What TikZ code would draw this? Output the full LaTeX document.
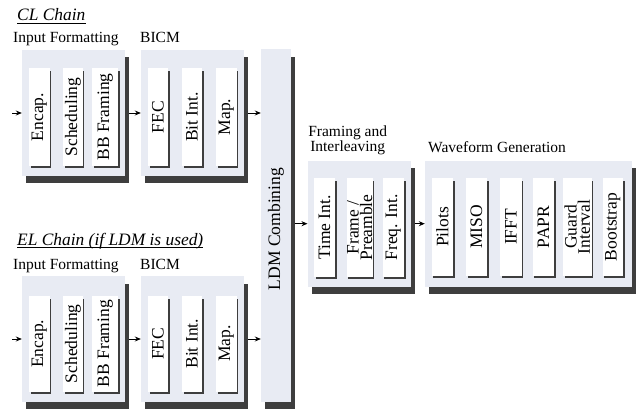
\documentclass[tikz,border=0pt]{standalone}
\usepackage{fontspec}
\setmainfont{Liberation Serif}
\usetikzlibrary{fit,arrows.meta}
\definecolor{panelfill}{HTML}{E8EBF3}
\definecolor{shadowgray}{HTML}{3E3E3E}
\tikzset{
  panel/.style={fill=panelfill, draw=none, inner sep=0pt, rectangle},
  pshadow/.style={fill=shadowgray},
  ibox/.style={fill=white, draw=none, inner sep=0pt, rectangle},
  ishadow/.style={fill=shadowgray},
  ilabel/.style={font=\fontsize{17.5}{12}\selectfont, inner sep=0pt, align=center, rotate=90},
  hdr/.style={font=\fontsize{15.5}{15}\selectfont, inner sep=0pt, anchor=base west},
  hdrc/.style={font=\fontsize{15.5}{15}\selectfont, inner sep=0pt, anchor=base},
  ttl/.style={font=\fontsize{17.4}{20}\selectfont\itshape, inner sep=0pt, anchor=base west},
  uline/.style={line width=0.9pt},
  flow/.style={-{Stealth[length=6pt,width=5pt]}, line width=0.9pt},
}
% panel with drop shadow: name, x1, y1, x2, y2
\newcommand\panelbox[5]{%
  \fill[pshadow] (#2+4,#3+7.5) rectangle (#4+4,#5+7);
  \node[panel, fit={(#2,#3) (#4,#5)}] (#1) {};}
% processing block with thin shadow and rotated label: name, x1, y1, x2, y2, text
\newcommand\stagebox[6]{%
  \fill[ishadow] (#2+1.5,#3+3) rectangle (#4+1.5,#5+1.7);
  \node[ibox, fit={(#2,#3) (#4,#5)}] (#1) {};
  \node[ilabel] (#1-l) at (#1.center) {#6};}
\begin{document}
\begin{tikzpicture}[x=1pt, y=-1pt]
\useasboundingbox (0,0) rectangle (641,412);

% ---- CL chain ----
\node[ttl] (cltitle) at (17,20.7) {CL Chain};
\draw[uline] ([yshift=-2.6pt]cltitle.base west) -- ([yshift=-2.6pt]cltitle.base east);
\node[hdr] (clifh) at (13,43) {Input Formatting};
\node[hdr] (clbich) at (140,43) {BICM};

\panelbox{clif}{22}{50}{125}{176}
\stagebox{clenc}{29}{68}{49.5}{166}{Encap.}
\stagebox{clsch}{63.3}{68}{82.7}{166}{Scheduling}
\stagebox{clbbf}{92.3}{68}{118.3}{166}{BB Framing}

\panelbox{clbicm}{141}{50}{244}{176}
\stagebox{clfec}{148}{68}{168}{166}{FEC}
\stagebox{clbit}{182}{68}{202}{166}{Bit Int.}
\stagebox{clmap}{216}{68}{236.5}{166}{Map.}

% ---- EL chain ----
\node[ttl] (eltitle) at (17,245) {EL Chain (if LDM is used)};
\draw[uline] ([yshift=-2.6pt]eltitle.base west) -- ([yshift=-2.6pt]eltitle.base east);
\node[hdr] (elifh) at (13,269.3) {Input Formatting};
\node[hdr] (elbich) at (140,269.3) {BICM};

\panelbox{elif}{22}{276}{125}{402}
\stagebox{elenc}{29}{295.5}{49.5}{392}{Encap.}
\stagebox{elsch}{63.3}{295.5}{82.7}{392}{Scheduling}
\stagebox{elbbf}{92.3}{295.5}{118.3}{392}{BB Framing}

\panelbox{elbicm}{141}{276}{244}{402}
\stagebox{elfec}{148}{295.5}{168}{392}{FEC}
\stagebox{elbit}{182}{295.5}{202}{392}{Bit Int.}
\stagebox{elmap}{216}{295.5}{236.5}{392}{Map.}

% ---- LDM combining ----
\panelbox{ldm}{261}{49.5}{290.5}{401.7}
\node[ilabel] (ldm-l) at (276,229) {LDM Combining};

% ---- Framing and interleaving ----
\node[hdrc] (frh1) at (347.7,137) {Framing and};
\node[hdrc] (frh2) at (347.7,152) {Interleaving};
\panelbox{fr}{307.7}{160.7}{410.7}{286.7}
\stagebox{frti}{314}{178}{335}{277}{Time Int.}
\stagebox{frfp}{346.7}{178}{372.7}{277}{Frame /\\Preamble}
\stagebox{frfq}{382.7}{178}{404}{277}{Freq. Int.}

% ---- Waveform generation ----
\node[hdr] (wfh) at (428,152.3) {Waveform Generation};
\panelbox{wf}{425}{160.7}{631.7}{286.7}
\stagebox{wfpil}{431.7}{178}{453}{276}{Pilots}
\stagebox{wfmiso}{466}{178}{487}{276}{MISO}
\stagebox{wfifft}{500}{178}{521.7}{276}{IFFT}
\stagebox{wfpapr}{532.7}{178}{554}{276}{PAPR}
\stagebox{wfgi}{563}{178}{591.7}{276}{Guard\\Interval}
\stagebox{wfboot}{602.7}{178}{623}{276}{Bootstrap}

% ---- signal flow ----
\coordinate (clin) at (12,113);
\coordinate (elin) at (12,339);
\draw[flow] (clin) -- (clif.west);
\draw[flow] ([xshift=4pt]clif.east) -- (clbicm.west);
\draw[flow] ([xshift=4pt]clbicm.east) -- (ldm.west |- clbicm.east);
\draw[flow] (elin) -- (elif.west);
\draw[flow] ([xshift=4pt]elif.east) -- (elbicm.west);
\draw[flow] ([xshift=4pt]elbicm.east) -- (ldm.west |- elbicm.east);
\draw[flow] ([xshift=4pt]ldm.east |- fr.west) -- (fr.west);
\draw[flow] ([xshift=4pt]fr.east) -- (wf.west);
\end{tikzpicture}
\end{document}
